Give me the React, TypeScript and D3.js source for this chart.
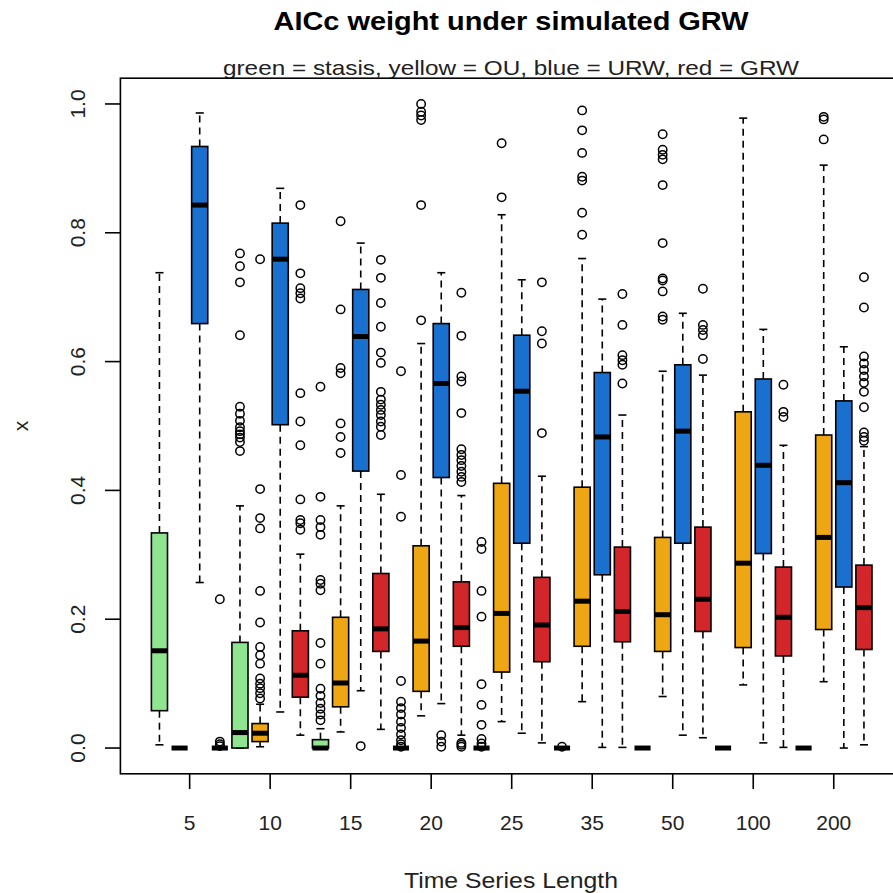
import React from 'react';
import * as d3 from 'd3';

// time series lengths (one group of four boxes each)
const lengths = ['5', '10', '15', '20', '25', '35', '50', '100', '200'];
const models = ['stasis', 'OU', 'URW', 'GRW'];

// [lower whisker, Q1, median, Q3, upper whisker] per length
const stasisStats = [
  [0.005, 0.058, 0.151, 0.334, 0.738],
  [0, 0, 0.024, 0.164, 0.376],
  [0, 0, 0, 0.013, 0.03],
  [0, 0, 0, 0, 0],
  [0, 0, 0, 0, 0],
  [0, 0, 0, 0, 0],
  [0, 0, 0, 0, 0],
  [0, 0, 0, 0, 0],
  [0, 0, 0, 0, 0]
];
const stasisOut = [
  [],
  [0.768, 0.748, 0.723, 0.641, 0.53, 0.519, 0.508, 0.498, 0.492, 0.487, 0.482, 0.475, 0.461],
  [0.561, 0.39, 0.354, 0.343, 0.331, 0.261, 0.255, 0.245, 0.163, 0.131, 0.092, 0.081, 0.07, 0.061, 0.052, 0.043],
  [0.585, 0.424, 0.359, 0.104, 0.072, 0.062, 0.052, 0.041, 0.031, 0.021, 0.012, 0.006, 0.002],
  [0.32, 0.309, 0.244, 0.204, 0.099, 0.067, 0.036, 0.014, 0.007, 0.002],
  [0.002],
  [],
  [],
  []
];

const ouStats = [
  [0, 0, 0, 0, 0],
  [0.002, 0.01, 0.023, 0.038, 0.068],
  [0.025, 0.064, 0.101, 0.203, 0.376],
  [0.05, 0.088, 0.166, 0.314, 0.628],
  [0.041, 0.118, 0.209, 0.411, 0.828],
  [0.072, 0.158, 0.228, 0.405, 0.76],
  [0.08, 0.15, 0.207, 0.327, 0.585],
  [0.098, 0.156, 0.287, 0.522, 0.978],
  [0.103, 0.184, 0.327, 0.486, 0.905]
];
const ouOut = [
  [],
  [0.759, 0.402, 0.357, 0.341, 0.244, 0.195, 0.157, 0.144, 0.131, 0.108, 0.1, 0.093, 0.085, 0.077],
  [0.818, 0.681, 0.59, 0.582, 0.504, 0.483, 0.458],
  [1.0, 0.988, 0.982, 0.975, 0.843, 0.664],
  [0.939, 0.855],
  [0.99, 0.959, 0.924, 0.887, 0.881, 0.831, 0.797],
  [0.953, 0.929, 0.921, 0.914, 0.874, 0.784, 0.729, 0.726, 0.709, 0.67, 0.665],
  [],
  [0.98, 0.976, 0.945]
];

const urwStats = [
  [0.257, 0.659, 0.843, 0.934, 0.986],
  [0.056, 0.502, 0.759, 0.815, 0.869],
  [0.089, 0.43, 0.639, 0.712, 0.784],
  [0.069, 0.42, 0.566, 0.659, 0.738],
  [0.023, 0.318, 0.554, 0.641, 0.727],
  [0.001, 0.269, 0.483, 0.583, 0.697],
  [0.02, 0.318, 0.492, 0.595, 0.675],
  [0.008, 0.302, 0.439, 0.573, 0.65],
  [0, 0.25, 0.412, 0.539, 0.623]
];
const urwOut = [[], [], [0.003], [0.02, 0.01, 0.002], [], [], [], [], []];

const grwStats = [
  [0, 0, 0, 0, 0],
  [0.02, 0.079, 0.113, 0.182, 0.301],
  [0.029, 0.15, 0.185, 0.271, 0.394],
  [0.02, 0.158, 0.187, 0.258, 0.392],
  [0.008, 0.134, 0.191, 0.265, 0.422],
  [0.001, 0.165, 0.212, 0.312, 0.517],
  [0.016, 0.181, 0.231, 0.343, 0.579],
  [0.001, 0.143, 0.203, 0.281, 0.47],
  [0.005, 0.153, 0.218, 0.284, 0.468]
];
const grwOut = [
  [0.231, 0.01, 0.006, 0.003],
  [0.843, 0.737, 0.714, 0.706, 0.698, 0.551, 0.507, 0.47, 0.386, 0.354, 0.349, 0.339],
  [0.758, 0.73, 0.691, 0.654, 0.614, 0.598, 0.553, 0.541, 0.533, 0.525, 0.517, 0.507, 0.499, 0.486],
  [0.707, 0.64, 0.577, 0.569, 0.52, 0.464, 0.455, 0.447, 0.438, 0.429, 0.421, 0.413, 0.008, 0.005, 0.002],
  [0.723, 0.647, 0.628, 0.489],
  [0.705, 0.657, 0.61, 0.602, 0.595, 0.566],
  [0.713, 0.657, 0.649, 0.641, 0.604],
  [0.564, 0.522, 0.514],
  [0.731, 0.684, 0.608, 0.597, 0.587, 0.577, 0.567, 0.553, 0.529, 0.49, 0.483, 0.477]
];

const yTicks = [0, 0.2, 0.4, 0.6, 0.8, 1.0];

const colors = ['#8fe58f', '#eea612', '#1a70cf', '#d2262b'];
const font = '"Liberation Sans", Arial, sans-serif';

const App = () => {
  const width = 893;
  const height = 893;
  const statsByModel = [stasisStats, ouStats, urwStats, grwStats];
  const outByModel = [stasisOut, ouOut, urwOut, grwOut];

  // boxes sit at positions 1..36, R-style 4% padding on the axis range
  const nBoxes = lengths.length * models.length;
  const x = d3.scaleLinear().domain([-0.94, nBoxes + 1.94]).range([120.4, 903]);
  const y = d3.scaleLinear().domain([-0.04, 1.04]).range([773.8, 78.2]);
  const boxW = x(1.8) - x(1);
  const capW = boxW / 2;

  const boxes = lengths.flatMap((len, g) =>
    models.map((m, k) => {
      const [lo, q1, med, q3, hi] = statsByModel[k][g];
      return { key: `${len}-${m}`, pos: g * 4 + k + 1, lo, q1, med, q3, hi, out: outByModel[k][g], color: colors[k] };
    })
  );

  return (
    <div style={{ position: 'absolute', left: 0, top: 0 }}>
      <svg width={width} height={height} style={{ display: 'block', background: '#fff', fontFamily: font }}>
        <text x={511} y={30} textAnchor="middle" fontSize={26} fontWeight="bold" textLength={475} lengthAdjust="spacingAndGlyphs">
          AICc weight under simulated GRW
        </text>
        <text x={511} y={75} textAnchor="middle" fontSize={21} textLength={576} lengthAdjust="spacingAndGlyphs" fill="#222">
          green = stasis, yellow = OU, blue = URW, red = GRW
        </text>

        {boxes.map(b => {
          const cx = x(b.pos);
          return (
            <g key={b.key}>
              <line x1={cx} x2={cx} y1={y(b.q3)} y2={y(b.hi)} stroke="#000" strokeWidth={1.6} strokeDasharray="7,5" />
              <line x1={cx} x2={cx} y1={y(b.q1)} y2={y(b.lo)} stroke="#000" strokeWidth={1.6} strokeDasharray="7,5" />
              <line x1={cx - capW / 2} x2={cx + capW / 2} y1={y(b.hi)} y2={y(b.hi)} stroke="#000" strokeWidth={1.6} />
              <line x1={cx - capW / 2} x2={cx + capW / 2} y1={y(b.lo)} y2={y(b.lo)} stroke="#000" strokeWidth={1.6} />
              <rect
                x={cx - boxW / 2}
                y={y(b.q3)}
                width={boxW}
                height={Math.max(y(b.q1) - y(b.q3), 0)}
                fill={b.color}
                stroke="#000"
                strokeWidth={1.6}
              />
              <line x1={cx - boxW / 2} x2={cx + boxW / 2} y1={y(b.med)} y2={y(b.med)} stroke="#000" strokeWidth={5} />
              {b.out.map((v, i) => (
                <circle key={i} cx={cx} cy={y(v)} r={4.2} fill="none" stroke="#000" strokeWidth={1.5} />
              ))}
            </g>
          );
        })}

        {/* frame */}
        <rect x={120.4} y={78.2} width={903 - 120.4} height={773.8 - 78.2} fill="none" stroke="#000" strokeWidth={1.6} />

        {/* y axis */}
        {yTicks.map(t => (
          <g key={`y-${t}`}>
            <line x1={105} x2={120.4} y1={y(t)} y2={y(t)} stroke="#000" strokeWidth={1.6} />
            <text
              transform={`translate(85, ${y(t)}) rotate(-90)`}
              textAnchor="middle"
              fontSize={21}
              fill="#222"
            >
              {t.toFixed(1)}
            </text>
          </g>
        ))}
        <text transform={`translate(28, ${y(0.5)}) rotate(-90)`} textAnchor="middle" fontSize={21} fill="#222">
          x
        </text>

        {/* x axis */}
        {lengths.map((len, g) => {
          const cx = x(g * 4 + 2.5);
          return (
            <g key={`x-${len}`}>
              <line x1={cx} x2={cx} y1={773.8} y2={789} stroke="#000" strokeWidth={1.6} />
              <text x={cx} y={830} textAnchor="middle" fontSize={21} fill="#222">
                {len}
              </text>
            </g>
          );
        })}
        <text x={511} y={888} textAnchor="middle" fontSize={22} fill="#222" textLength={214} lengthAdjust="spacingAndGlyphs">
          Time Series Length
        </text>
      </svg>
    </div>
  );
};

export default App;
